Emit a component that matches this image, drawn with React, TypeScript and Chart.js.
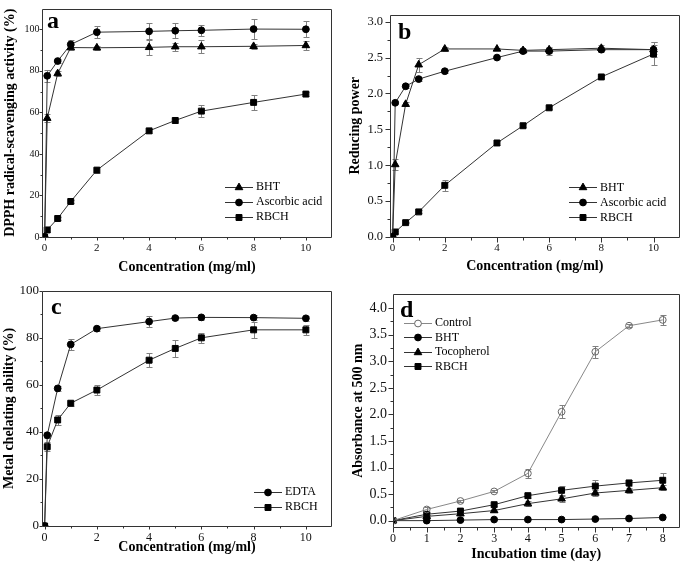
import React, { useEffect, useRef } from 'react';
import { Chart, registerables } from 'chart.js';

Chart.register(...registerables);

const SERIF = '"Liberation Serif", "Times New Roman", Times, serif';

// ---------------- Panel a: DPPH radical-scavenging activity ----------------
const concentrations = [0, 0.1, 0.5, 1, 2, 4, 5, 6, 8, 10];
const dpphBHT = [0, 57.2, 78.7, 91.2, 91.1, 91.3, 91.6, 91.6, 91.8, 92.2];
const dpphBHTErr = [0, 2, 1, 1.2, 1, 3.5, 2, 3.2, 1.2, 2.2];
const dpphAscorbic = [0, 77.6, 84.7, 92.7, 98.6, 99.0, 99.3, 99.5, 100.1, 100.0];
const dpphAscorbicErr = [0, 2.9, 1, 2, 2.9, 3.9, 3.7, 2.5, 4.7, 3.9];
const dpphRBCH = [0, 3.4, 8.9, 17.1, 32.2, 51.1, 56.1, 60.6, 64.8, 68.8];
const dpphRBCHErr = [0, 0.8, 0.8, 0.8, 1.5, 0.8, 1.0, 3.0, 3.7, 0.8];

// ---------------- Panel b: Reducing power ----------------
const rpBHT = [0, 1.01, 1.85, 2.40, 2.62, 2.62, 2.60, 2.61, 2.63, 2.61];
const rpBHTErr = [0, 0.08, 0.03, 0.1, 0.03, 0.02, 0.02, 0.04, 0.04, 0.1];
const rpAscorbic = [0, 1.87, 2.10, 2.20, 2.31, 2.50, 2.59, 2.59, 2.61, 2.61];
const rpAscorbicErr = [0, 0.02, 0.02, 0.02, 0.02, 0.02, 0.02, 0.05, 0.03, 0.06];
const rpRBCH = [0, 0.07, 0.20, 0.35, 0.72, 1.31, 1.55, 1.80, 2.23, 2.55];
const rpRBCHErr = [0, 0.01, 0.01, 0.02, 0.075, 0.03, 0.02, 0.02, 0.02, 0.16];

// ---------------- Panel c: Metal chelating ability ----------------
const chelEDTA = [0, 38.6, 58.5, 77.2, 83.9, 86.9, 88.4, 88.7, 88.6, 88.3];
const chelEDTAErr = [0, 1, 1, 2.3, 1, 2.4, 1, 1, 1, 1];
const chelRBCH = [0, 33.7, 45.1, 52.2, 57.8, 70.5, 75.5, 80.0, 83.4, 83.4];
const chelRBCHErr = [0, 1.9, 2.3, 1, 2, 3, 3.7, 2.1, 3.4, 2];

// ---------------- Panel d: Absorbance at 500 nm ----------------
const incubationDays = [0, 1, 2, 3, 4, 5, 6, 7, 8];
const absControl = [0, 0.21, 0.37, 0.55, 0.89, 2.05, 3.18, 3.67, 3.78];
const absControlErr = [0, 0.04, 0.02, 0.02, 0.08, 0.12, 0.11, 0.03, 0.1];
const absBHT = [0, 0.0, 0.01, 0.02, 0.02, 0.02, 0.03, 0.04, 0.06];
const absTocopherol = [0, 0.08, 0.13, 0.19, 0.32, 0.41, 0.52, 0.57, 0.62];
const absTocopherolErr = [0, 0.02, 0.02, 0.03, 0.05, 0.06, 0.05, 0.05, 0.05];
const absRBCH = [0, 0.12, 0.18, 0.30, 0.47, 0.57, 0.65, 0.71, 0.76];
const absRBCHErr = [0, 0.02, 0.03, 0.03, 0.04, 0.09, 0.11, 0.05, 0.14];

// ---------------- Tick labels ----------------
const concTicks = [0, 2, 4, 6, 8, 10];
const concMinor = [1, 3, 5, 7, 9];
const pctTicks = [0, 20, 40, 60, 80, 100];
const pctMinor = [10, 30, 50, 70, 90];
const rpTicks = [0, 0.5, 1, 1.5, 2, 2.5, 3];
const rpMinor = [0.25, 0.75, 1.25, 1.75, 2.25, 2.75];
const dayTicks = [0, 1, 2, 3, 4, 5, 6, 7, 8];
const dayMinor = [0.5, 1.5, 2.5, 3.5, 4.5, 5.5, 6.5, 7.5];
const absTicks = [0, 0.5, 1, 1.5, 2, 2.5, 3, 3.5, 4];
const absMinor = [0.25, 0.75, 1.25, 1.75, 2.25, 2.75, 3.25, 3.75];

type Marker = 'circle' | 'rect' | 'triangle';
type Series = { label: string; x: number[]; y: number[]; err?: number[]; marker: Marker; open?: boolean; line?: string };

const RADIUS: Record<Marker, number> = { circle: 3.4, rect: 4.2, triangle: 4.4 };

function drawMarker(ctx: CanvasRenderingContext2D, m: Marker, x: number, y: number, open: boolean) {
  const r = RADIUS[m];
  ctx.beginPath();
  if (m === 'circle') ctx.arc(x, y, r, 0, Math.PI * 2);
  else if (m === 'rect') {
    const s = r * Math.SQRT1_2;
    ctx.rect(x - s, y - s, 2 * s, 2 * s);
  } else {
    ctx.moveTo(x, y - r);
    ctx.lineTo(x + 0.866 * r, y + 0.5 * r);
    ctx.lineTo(x - 0.866 * r, y + 0.5 * r);
    ctx.closePath();
  }
  ctx.fillStyle = open ? '#fff' : '#000';
  ctx.strokeStyle = open ? '#666' : '#000';
  ctx.lineWidth = 1;
  ctx.fill();
  ctx.stroke();
}

const errorBarPlugin = {
  id: 'errorBars',
  beforeDatasetsDraw(chart: any) {
    const { ctx, chartArea, scales } = chart;
    const ys = scales.y;
    ctx.save();
    ctx.beginPath();
    ctx.rect(chartArea.left, chartArea.top - 1, chartArea.right - chartArea.left, chartArea.bottom - chartArea.top + 2);
    ctx.clip();
    ctx.strokeStyle = '#808080';
    ctx.lineWidth = 1;
    chart.data.datasets.forEach((ds: any, di: number) => {
      const errs: number[] | undefined = ds.errors;
      if (!errs) return;
      const meta = chart.getDatasetMeta(di);
      meta.data.forEach((pt: any, i: number) => {
        const e = errs[i];
        if (!e) return;
        const v = ds.data[i].y;
        const px = Math.round(pt.x) + 0.5;
        const t = Math.round(ys.getPixelForValue(v + e)) + 0.5;
        const b = Math.round(ys.getPixelForValue(v - e)) + 0.5;
        ctx.beginPath();
        ctx.moveTo(px, t);
        ctx.lineTo(px, b);
        ctx.moveTo(px - 3, t);
        ctx.lineTo(px + 3, t);
        ctx.moveTo(px - 3, b);
        ctx.lineTo(px + 3, b);
        ctx.stroke();
      });
    });
    ctx.restore();
  },
};

const framePlugin = {
  id: 'frameTicks',
  afterDraw(chart: any, _args: any, opts: any) {
    const { ctx, chartArea, scales } = chart;
    const { left, right, top, bottom } = chartArea;
    ctx.save();
    ctx.strokeStyle = '#333';
    ctx.lineWidth = 1;
    const L = Math.round(left) + 0.5, R = Math.round(right) - 0.5, T = Math.round(top) + 0.5, B = Math.round(bottom) + 0.5;
    ctx.beginPath();
    ctx.rect(L, T, R - L, B - T);
    ctx.stroke();
    ctx.beginPath();
    const major = opts.majorLen, minor = opts.minorLen;
    (opts.xMajor || []).forEach((v: number) => {
      const p = Math.round(scales.x.getPixelForValue(v)) + 0.5;
      ctx.moveTo(p, B); ctx.lineTo(p, B + major);
    });
    (opts.xMinor || []).forEach((v: number) => {
      const p = Math.round(scales.x.getPixelForValue(v)) + 0.5;
      ctx.moveTo(p, B); ctx.lineTo(p, B + minor);
    });
    (opts.yMajor || []).forEach((v: number) => {
      const p = Math.round(scales.y.getPixelForValue(v)) + 0.5;
      ctx.moveTo(L, p); ctx.lineTo(L - major, p);
    });
    (opts.yMinor || []).forEach((v: number) => {
      const p = Math.round(scales.y.getPixelForValue(v)) + 0.5;
      ctx.moveTo(L, p); ctx.lineTo(L - minor, p);
    });
    ctx.stroke();

    // panel letter
    if (opts.letter) {
      ctx.fillStyle = '#000';
      ctx.font = `bold 24px ${SERIF}`;
      ctx.textAlign = 'left';
      ctx.textBaseline = 'alphabetic';
      ctx.fillText(opts.letter, left + opts.letterDx, top + opts.letterDy);
    }

    // legend
    const lg = opts.legend;
    if (lg) {
      chart.data.datasets.forEach((ds: any, i: number) => {
        const y = lg.y + i * lg.dy;
        ctx.strokeStyle = ds.borderColor;
        ctx.lineWidth = 1;
        ctx.beginPath();
        ctx.moveTo(lg.x, Math.round(y) + 0.5);
        ctx.lineTo(lg.x + lg.len, Math.round(y) + 0.5);
        ctx.stroke();
        drawMarker(ctx, ds.pointStyle, lg.x + lg.len / 2, Math.round(y) + 0.5, !!ds.openMarker);
        ctx.fillStyle = '#000';
        ctx.font = `12px ${SERIF}`;
        ctx.textAlign = 'left';
        ctx.textBaseline = 'middle';
        ctx.fillText(ds.label, lg.x + lg.len + 3, y + 0.5);
      });
    }
    ctx.restore();
  },
};

type Spec = {
  left: number; top: number; width: number; height: number;
  series: Series[];
  xMin: number; xMax: number; yMin: number; yMax: number;
  xTicks: number[]; xMinor: number[]; yTicks: number[]; yMinor: number[];
  xDigits: number; yDigits: number; xFont: number; yFont: number;
  xTitle: string; yTitle: string;
  yAxisWidth: number; xAxisHeight: number; padTop: number; padRight: number;
  yTitlePad: number; xTitlePad: number; yLabelPad: number; xLabelPad: number;
  majorLen: number; minorLen: number;
  letter: string; letterDx: number; letterDy: number;
  legend: { x: number; y: number; dy: number; len: number };
};

function buildConfig(s: Spec): any {
  return {
    type: 'line',
    data: {
      datasets: s.series.map((se) => ({
        label: se.label,
        data: se.x.map((xv, i) => ({ x: xv, y: se.y[i] })),
        errors: se.err,
        openMarker: !!se.open,
        borderColor: se.line || '#333',
        borderWidth: 1,
        pointStyle: se.marker,
        pointRadius: RADIUS[se.marker],
        pointBackgroundColor: se.open ? 'rgba(0,0,0,0)' : '#000',
        pointBorderColor: se.open ? '#666' : '#000',
        pointBorderWidth: 1,
        tension: 0,
        fill: false,
      })),
    },
    options: {
      responsive: false,
      animation: false,
      events: [],
      layout: { padding: { left: 0, top: s.padTop, right: s.padRight, bottom: 0 } },
      plugins: {
        legend: { display: false },
        tooltip: { enabled: false },
        frameTicks: {
          majorLen: s.majorLen, minorLen: s.minorLen,
          xMajor: s.xTicks, xMinor: s.xMinor, yMajor: s.yTicks, yMinor: s.yMinor,
          letter: s.letter, letterDx: s.letterDx, letterDy: s.letterDy,
          legend: s.legend,
        },
      },
      scales: {
        x: {
          type: 'linear',
          min: s.xMin,
          max: s.xMax,
          grid: { display: false, drawTicks: false },
          border: { display: false },
          afterBuildTicks: (sc: any) => { sc.ticks = s.xTicks.map((v) => ({ value: v })); },
          afterFit: (sc: any) => { sc.height = s.xAxisHeight; },
          ticks: {
            autoSkip: false, maxRotation: 0, padding: s.xLabelPad, color: '#111',
            font: { family: SERIF, size: s.xFont },
            callback: (v: any) => Number(v).toFixed(s.xDigits),
          },
          title: {
            display: true, text: s.xTitle, color: '#000',
            font: { family: SERIF, size: 14, weight: 'bold' },
            padding: { top: 0, bottom: s.xTitlePad },
          },
        },
        y: {
          type: 'linear',
          min: s.yMin,
          max: s.yMax,
          grid: { display: false, drawTicks: false },
          border: { display: false },
          afterBuildTicks: (sc: any) => { sc.ticks = s.yTicks.map((v) => ({ value: v })); },
          afterFit: (sc: any) => { sc.width = s.yAxisWidth; },
          ticks: {
            autoSkip: false, padding: s.yLabelPad, color: '#111',
            font: { family: SERIF, size: s.yFont },
            callback: (v: any) => Number(v).toFixed(s.yDigits),
          },
          title: {
            display: true, text: s.yTitle, color: '#000',
            font: { family: SERIF, size: 14, weight: 'bold' },
            padding: { top: s.yTitlePad, bottom: 0 },
          },
        },
      },
    },
    plugins: [errorBarPlugin, framePlugin],
  };
}

const specs: Spec[] = [
  {
    left: 0, top: 0, width: 340, height: 280,
    series: [
      { label: 'BHT', x: concentrations, y: dpphBHT, err: dpphBHTErr, marker: 'triangle' },
      { label: 'Ascorbic acid', x: concentrations, y: dpphAscorbic, err: dpphAscorbicErr, marker: 'circle' },
      { label: 'RBCH', x: concentrations, y: dpphRBCH, err: dpphRBCHErr, marker: 'rect' },
    ],
    xMin: -0.1, xMax: 11, yMin: 0, yMax: 110,
    xTicks: concTicks, xMinor: concMinor, yTicks: pctTicks, yMinor: pctMinor,
    xDigits: 0, yDigits: 0, xFont: 11, yFont: 10,
    xTitle: 'Concentration (mg/ml)', yTitle: 'DPPH radical-scavenging activity (%)',
    yAxisWidth: 42, xAxisHeight: 43, padTop: 2, padRight: 8,
    yTitlePad: 2, xTitlePad: 4.6, yLabelPad: 2.5, xLabelPad: 5,
    majorLen: 3, minorLen: 2,
    letter: 'a', letterDx: 5, letterDy: 19,
    legend: { x: 225, y: 186.7, dy: 15, len: 28 },
  },
  {
    left: 340, top: 0, width: 345, height: 280,
    series: [
      { label: 'BHT', x: concentrations, y: rpBHT, err: rpBHTErr, marker: 'triangle' },
      { label: 'Ascorbic acid', x: concentrations, y: rpAscorbic, err: rpAscorbicErr, marker: 'circle' },
      { label: 'RBCH', x: concentrations, y: rpRBCH, err: rpRBCHErr, marker: 'rect' },
    ],
    xMin: -0.1, xMax: 11, yMin: 0, yMax: 3.1,
    xTicks: concTicks, xMinor: concMinor, yTicks: rpTicks, yMinor: rpMinor,
    xDigits: 0, yDigits: 1, xFont: 11, yFont: 12.5,
    xTitle: 'Concentration (mg/ml)', yTitle: 'Reducing power',
    yAxisWidth: 50, xAxisHeight: 43, padTop: 1, padRight: 5,
    yTitlePad: 6.6, xTitlePad: 4.9, yLabelPad: 7, xLabelPad: 5,
    majorLen: 5, minorLen: 3,
    letter: 'b', letterDx: 8, letterDy: 24,
    legend: { x: 229, y: 187, dy: 15, len: 28 },
  },
  {
    left: 0, top: 280, width: 340, height: 283,
    series: [
      { label: 'EDTA', x: concentrations, y: chelEDTA, err: chelEDTAErr, marker: 'circle' },
      { label: 'RBCH', x: concentrations, y: chelRBCH, err: chelRBCHErr, marker: 'rect' },
    ],
    xMin: -0.1, xMax: 11, yMin: 0, yMax: 100,
    xTicks: concTicks, xMinor: concMinor, yTicks: pctTicks, yMinor: pctMinor,
    xDigits: 0, yDigits: 0, xFont: 12, yFont: 13,
    xTitle: 'Concentration (mg/ml)', yTitle: 'Metal chelating ability (%)',
    yAxisWidth: 42, xAxisHeight: 37, padTop: 9, padRight: 8,
    yTitlePad: 1, xTitlePad: 7.5, yLabelPad: 3, xLabelPad: 5,
    majorLen: 3, minorLen: 2,
    letter: 'c', letterDx: 9, letterDy: 23,
    legend: { x: 254, y: 211.7, dy: 15, len: 28 },
  },
  {
    left: 340, top: 280, width: 345, height: 283,
    series: [
      { label: 'Control', x: incubationDays, y: absControl, err: absControlErr, marker: 'circle', open: true, line: '#888' },
      { label: 'BHT', x: incubationDays, y: absBHT, marker: 'circle' },
      { label: 'Tocopherol', x: incubationDays, y: absTocopherol, err: absTocopherolErr, marker: 'triangle' },
      { label: 'RBCH', x: incubationDays, y: absRBCH, err: absRBCHErr, marker: 'rect' },
    ],
    xMin: 0, xMax: 8.5, yMin: -0.12, yMax: 4.26,
    xTicks: dayTicks, xMinor: dayMinor, yTicks: absTicks, yMinor: absMinor,
    xDigits: 0, yDigits: 1, xFont: 12, yFont: 14,
    xTitle: 'Incubation time (day)', yTitle: 'Absorbance at 500 nm',
    yAxisWidth: 53, xAxisHeight: 36, padTop: 9, padRight: 2,
    yTitlePad: 9.6, xTitlePad: 0, yLabelPad: 6, xLabelPad: 5,
    majorLen: 5, minorLen: 3,
    letter: 'd', letterDx: 7, letterDy: 23,
    legend: { x: 64, y: 42.7, dy: 14.4, len: 28 },
  },
];

function Panel({ spec }: { spec: Spec }) {
  const ref = useRef<HTMLCanvasElement>(null);
  useEffect(() => {
    const chart = new Chart(ref.current as HTMLCanvasElement, buildConfig(spec));
    return () => chart.destroy();
  }, [spec]);
  return (
    <div style={{ position: 'absolute', left: spec.left, top: spec.top, width: spec.width, height: spec.height }}>
      <canvas ref={ref} width={spec.width} height={spec.height} style={{ width: spec.width, height: spec.height, display: 'block' }} />
    </div>
  );
}

export default function App() {
  return (
    <div style={{ position: 'absolute', left: 0, top: 0, width: 685, height: 563, background: '#fff' }}>
      {specs.map((s, i) => (
        <Panel key={i} spec={s} />
      ))}
    </div>
  );
}
